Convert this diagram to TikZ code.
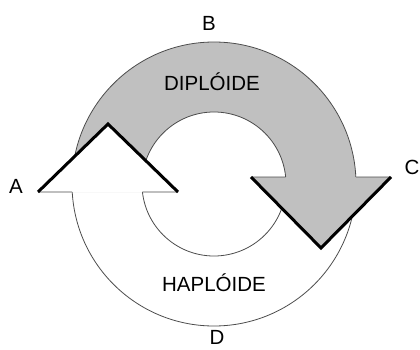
\documentclass[tikz,border=0pt]{standalone}
\usepackage{fontspec}
\setmainfont{Liberation Sans}
\usetikzlibrary{calc}
\definecolor{ringgray}{RGB}{192,192,192}
\begin{document}
\begin{tikzpicture}[x=1pt,y=1pt,
  thinline/.style={draw=black!70,line width=0.8pt},
  thickline/.style={draw=black,line width=3pt,line join=miter,line cap=butt},
  lbl/.style={anchor=base,inner sep=0pt,font=\fontsize{20.5}{24}\selectfont}]
\useasboundingbox (0,0) rectangle (420,349);
\coordinate (O) at (214,165);
\coordinate (AO) at ($(O)+(183.23:142)$);
\coordinate (AI) at ($(O)+(186.38:72)$);
\coordinate (CO) at ($(O)+(2.83:142)$);
\coordinate (CI) at ($(O)+(5.58:72)$);
% gray (diploid) ring segment
\fill[ringgray] (AO) arc[start angle=183.23,end angle=2.83,radius=142] -- (CI)
  arc[start angle=5.58,end angle=186.38,radius=72] -- cycle;
\draw[thinline] (O) circle[radius=142];
\draw[thinline] (O) circle[radius=72];
% head A (white, up)
\coordinate (AL) at (38,157);
\coordinate (AT) at (108,225);
\coordinate (AR) at (178,157);
\fill[white] (AL) -- (AT) -- (AR) -- cycle;
\draw[thinline] (AL) -- (AO);
\draw[thinline] (AR) -- (AI);
\draw[thickline] (AL) -- (AT) -- (AR);
% head C (gray, down)
\coordinate (CL) at (251,172);
\coordinate (CT) at (321,101);
\coordinate (CR) at (391,172);
\fill[ringgray] (CL) -- (CT) -- (CR) -- cycle;
\draw[thinline] (CL) -- (CI);
\draw[thinline] (CR) -- (CO);
\draw[thickline] (CL) -- (CT) -- (CR);
% labels
\node[lbl] (la) at (16,155.7) {A};
\node[lbl] (lb) at (209,319) {B};
\node[lbl] (lc) at (412,175) {C};
\node[lbl] (ld) at (217,4.5) {D};
\node[lbl] (dip) at (212,259) {DIPLÓIDE};
\node[lbl] (hap) at (214,57.3) {HAPLÓIDE};
\end{tikzpicture}
\end{document}
